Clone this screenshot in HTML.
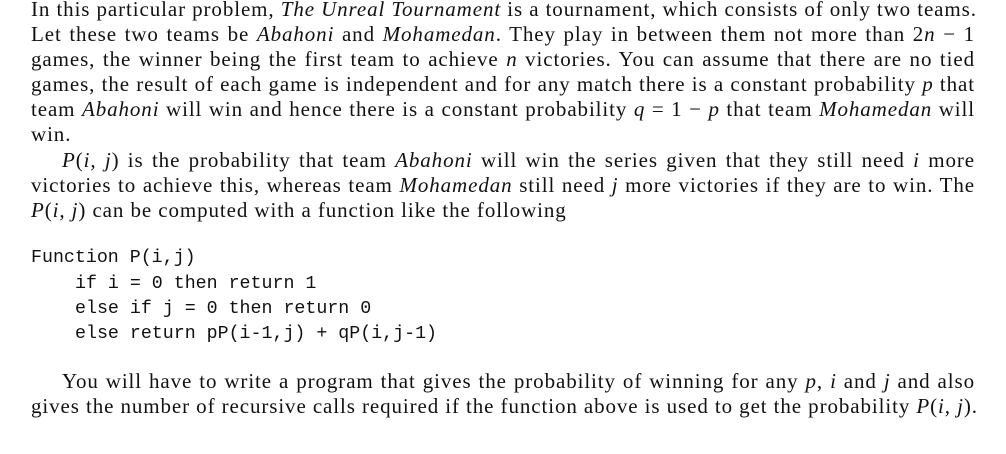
<!DOCTYPE html>
<html><head><meta charset="utf-8"><style>
html,body{margin:0;padding:0;background:#fff;width:1006px;height:454px;overflow:hidden;position:relative}
.l{position:absolute;left:31px;width:944px;font-family:"Liberation Serif",serif;font-size:21px;letter-spacing:0.9px;line-height:22px;color:#111;white-space:nowrap;text-align:justify;text-align-last:justify}
.n{text-align-last:left}
.c{position:absolute;font-family:"Liberation Mono",monospace;font-size:18.3px;line-height:22px;color:#111;white-space:pre}
</style></head><body>
<div class="l" style="top:-2px">In this particular problem, <i>The Unreal Tournament</i> is a tournament, which consists of only two teams.</div>
<div class="l" style="top:23px">Let these two teams be <i>Abahoni</i> and <i>Mohamedan</i>. They play in between them not more than 2<i>n</i> − 1</div>
<div class="l" style="top:48px">games, the winner being the first team to achieve <i>n</i> victories. You can assume that there are no tied</div>
<div class="l" style="top:73px">games, the result of each game is independent and for any match there is a constant probability <i>p</i> that</div>
<div class="l" style="top:98px">team <i>Abahoni</i> will win and hence there is a constant probability <i>q</i> = 1 − <i>p</i> that team <i>Mohamedan</i> will</div>
<div class="l n" style="top:123px">win.</div>
<div class="l" style="top:149px;left:62px;width:913px"><i>P</i>(<i>i, j</i>) is the probability that team <i>Abahoni</i> will win the series given that they still need <i>i</i> more</div>
<div class="l" style="top:174px">victories to achieve this, whereas team <i>Mohamedan</i> still need <i>j</i> more victories if they are to win. The</div>
<div class="l n" style="top:199px"><i>P</i>(<i>i, j</i>) can be computed with a function like the following</div>
<div class="c" style="top:247px;left:31px">Function P(i,j)</div>
<div class="c" style="top:273px;left:75px">if i = 0 then return 1</div>
<div class="c" style="top:298px;left:75px">else if j = 0 then return 0</div>
<div class="c" style="top:323px;left:75px">else return pP(i-1,j) + qP(i,j-1)</div>
<div class="l" style="top:370px;left:62px;width:913px">You will have to write a program that gives the probability of winning for any <i>p</i>, <i>i</i> and <i>j</i> and also</div>
<div class="l" style="top:395px">gives the number of recursive calls required if the function above is used to get the probability <i>P</i>(<i>i, j</i>).</div>
</body></html>
